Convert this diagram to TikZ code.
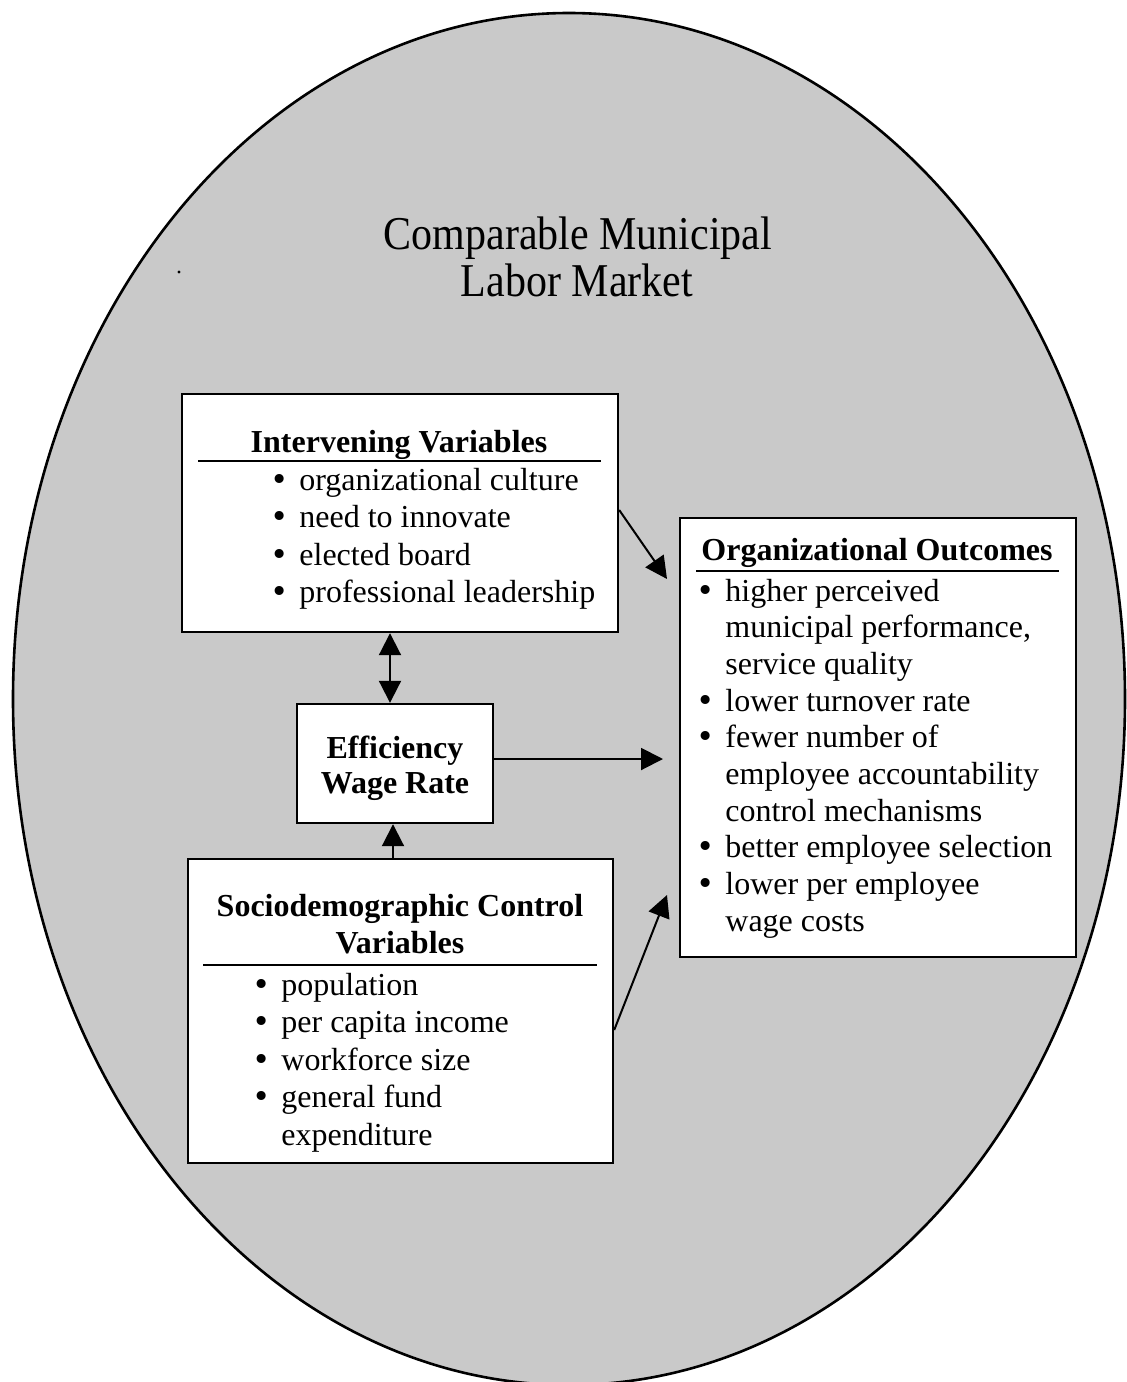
\documentclass[tikz,border=0pt]{standalone}
\usepackage{fontspec}
\setmainfont{Liberation Serif}
\newfontfamily\bulfont{DejaVu Serif}
\usetikzlibrary{arrows.meta}
\tikzset{
  box/.style={draw, line width=1.2pt, fill=white, rectangle, inner sep=0pt},
  lbl/.style={inner sep=0pt, font=\fontsize{16pt}{18.75pt}\selectfont},
  ttl/.style={inner sep=0pt, font=\fontsize{16pt}{18.75pt}\selectfont\bfseries},
  uline/.style={line width=1pt},
  arr/.style={line width=1pt, -{Triangle[length=11pt,width=11pt]}},
  dblarr/.style={line width=1pt, {Triangle[length=11pt,width=11pt]}-{Triangle[length=11pt,width=11pt]}}
}
\newcommand{\bul}{\llap{{\bulfont\fontsize{15.5pt}{15.5pt}\selectfont •}\hspace{0.34em}}}
\begin{document}
\begin{tikzpicture}[x=0.5pt,y=-0.5pt]
\useasboundingbox (0,0) rectangle (1126,1382);
\fill[white] (0,0) rectangle (1126,1382);
% market ellipse
\draw[line width=1.3pt, fill=black!21] (569,699) ellipse [x radius=556, y radius=686];
\fill (179,272) circle [radius=1.6];
% title
\node[inner sep=0pt, anchor=base, font=\fontsize{21pt}{23.5pt}\selectfont] (mkt) at (578,249)
  {\scalebox{1}[1.12]{Comparable Municipal}};
\node[inner sep=0pt, anchor=base, font=\fontsize{21pt}{23.5pt}\selectfont] (mkt2) at (577,296)
  {\scalebox{1}[1.12]{Labor Market}};
% boxes
\node[box, minimum width=218pt, minimum height=119pt] (inter) at (400,513) {};
\node[box, minimum width=98pt, minimum height=59.5pt] (eff) at (395,763.5) {};
\node[box, minimum width=198pt, minimum height=219.5pt] (org) at (878,737.5) {};
\node[box, minimum width=212.5pt, minimum height=152pt] (socio) at (400.5,1011) {};
% intervening
\node[ttl, anchor=base] (intert) at (399,452) {Intervening Variables};
\draw[uline] (198,461) -- (601,461);
\node[lbl, anchor=base west] (interl) at (299,490)
  {\begin{tabular}[t]{@{}l@{}}\bul organizational culture\\ \bul need to innovate\\ \bul elected board\\ \bul professional leadership\end{tabular}};
% efficiency
\node[ttl, anchor=base] (efft) at (395,758)
  {\fontsize{16pt}{17.5pt}\selectfont\begin{tabular}[t]{@{}c@{}}Efficiency\\ Wage Rate\end{tabular}};
% outcomes
\node[ttl, anchor=base] (orgt) at (877,560) {Organizational Outcomes};
\draw[uline] (696,571) -- (1059,571);
\node[inner sep=0pt, anchor=base west, font=\fontsize{16pt}{18.35pt}\selectfont] (orgl) at (725,601)
  {\begin{tabular}[t]{@{}l@{}}\bul higher perceived\\ municipal performance,\\ service quality\\ \bul lower turnover rate\\ \bul fewer number of\\ employee accountability\\ control mechanisms\\ \bul better employee selection\\ \bul lower per employee\\ wage costs\end{tabular}};
% socio
\node[ttl, anchor=base] (sociot) at (400,916)
  {\begin{tabular}[t]{@{}c@{}}Sociodemographic Control\\ Variables\end{tabular}};
\draw[uline] (203,965) -- (597,965);
\node[lbl, anchor=base west] (socil) at (281,995)
  {\begin{tabular}[t]{@{}l@{}}\bul population\\ \bul per capita income\\ \bul workforce size\\ \bul general fund\\ expenditure\end{tabular}};
% connectors
\coordinate (t1) at (667,579);
\coordinate (t2) at (663,759);
\coordinate (t3) at (667,895);
\draw[arr] ([yshift=1.5pt]inter.east) -- (t1);
\draw[arr] ([yshift=2.25pt]eff.east) -- (t2);
\draw[arr] ([yshift=-9.5pt]socio.east) -- (t3);
\draw[dblarr] ([xshift=-5pt]inter.south) -- ([xshift=-2.5pt]eff.north);
\draw[arr] ([xshift=-3.75pt]socio.north) -- ([xshift=-1pt]eff.south);
\end{tikzpicture}
\end{document}
